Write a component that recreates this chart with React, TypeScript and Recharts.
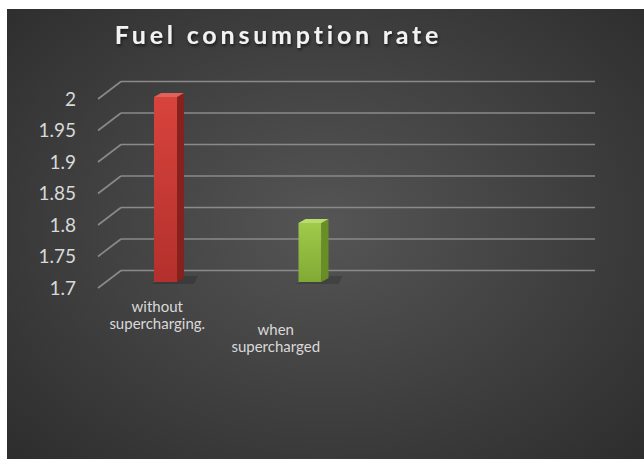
import React from 'react';
import { ComposedChart, Bar, XAxis, YAxis, CartesianGrid } from 'recharts';

const title = 'Fuel consumption rate';
const categories = ['without supercharging.', 'when supercharged', '', ''];
const consumption: (number | null)[] = [2.0, 1.8, null, null];
const yTicks = [1.7, 1.75, 1.8, 1.85, 1.9, 1.95, 2];

const data = categories.map((category, i) => ({ category, slot: i, consumption: consumption[i] }));

const W = 637;
const H = 450;
const DEPTH_DX = 23;
const DEPTH_DY = 17.5;
const FONT = 'Lato, "Open Sans", sans-serif';

const palettes = [
  { top: '#e0605a', front0: '#d8433d', front1: '#b4302c', side: '#86211e' },
  { top: '#b9dc6c', front0: '#a0ca4a', front1: '#80aa34', side: '#6a8e26' },
];

const gridLine = (p: any) => (
  <g key={p.key}>
    <line x1={p.x1} y1={p.y1} x2={p.x1 + DEPTH_DX} y2={p.y1 - DEPTH_DY} stroke="#8a8a8a" strokeWidth={1.6} />
    <line x1={p.x1 + DEPTH_DX} y1={p.y1 - DEPTH_DY} x2={p.x2 + DEPTH_DX} y2={p.y2 - DEPTH_DY} stroke="#8a8a8a" strokeWidth={1.6} />
  </g>
);

const CategoryTick = (props: any) => {
  const { x, y, payload, index } = props;
  const label: string = payload && payload.value ? String(payload.value) : '';
  if (!label.trim()) return null;
  const sp = label.indexOf(' ');
  const lines = sp > 0 ? [label.slice(0, sp), label.slice(sp + 1)] : [label];
  const stagger = index * 23;
  return (
    <text textAnchor="middle" fill="#d9d9d9" fontSize={15} fontFamily={FONT}>
      {lines.map((ln, i) => (
        <tspan key={i} x={x} y={y - 14 + stagger + i * 17}>{ln}</tspan>
      ))}
    </text>
  );
};

const Bar3D = (props: any) => {
  const { x, y, width, height, index, value } = props;
  if (value == null || height == null || isNaN(height)) return null;
  const pal = palettes[index % palettes.length];
  const top = y - 2;
  const bottom = y + height - 6;
  const sx = 7;
  const sy = 4;
  const gid = `barfront-${index}`;
  return (
    <g>
      <defs>
        <linearGradient id={gid} x1="0" y1="0" x2="0" y2="1">
          <stop offset="0%" stopColor={pal.front0} />
          <stop offset="100%" stopColor={pal.front1} />
        </linearGradient>
      </defs>
      <polygon
        points={`${x - 4},${bottom + 2} ${x + width + sx + 10},${bottom + 2} ${x + width + sx + 14},${bottom - sy - 2} ${x + width},${bottom - sy - 2}`}
        fill="#000"
        opacity={0.16}
      />
      <rect x={x} y={top} width={width} height={bottom - top} fill={`url(#${gid})`} />
      <polygon
        points={`${x + width},${top} ${x + width + sx},${top - sy} ${x + width + sx},${bottom - sy} ${x + width},${bottom}`}
        fill={pal.side}
      />
      <polygon
        points={`${x},${top} ${x + sx},${top - sy} ${x + width + sx},${top - sy} ${x + width},${top}`}
        fill={pal.top}
      />
    </g>
  );
};

export default function App() {
  return (
    <div
      style={{
        position: 'absolute',
        left: 7,
        top: 9,
        width: W,
        height: H,
        background: 'radial-gradient(ellipse 75% 80% at 50% 48%, #555555 0%, #444444 40%, #2a2a2a 100%)',
      }}
    >
      <ComposedChart
        width={W}
        height={H}
        data={data}
        margin={{ top: 90, right: 72, bottom: 141, left: 0 }}
      >
        <CartesianGrid xAxisId="labels" vertical={false} horizontal={gridLine} />
        <XAxis
          xAxisId="labels"
          dataKey="category"
          type="category"
          axisLine={false}
          tickLine={false}
          interval={0}
          tick={<CategoryTick />}
        />
        <XAxis
          xAxisId="bars"
          dataKey="slot"
          type="category"
          hide
          padding={{ left: -5, right: -99 }}
        />
        <YAxis
          type="number"
          domain={[1.7, 2]}
          ticks={yTicks}
          width={91}
          axisLine={false}
          tickLine={false}
          tickMargin={16}
          interval={0}
          tick={{ fill: '#d9d9d9', fontSize: 19, fontFamily: FONT }}
        />
        <Bar
          xAxisId="bars"
          dataKey="consumption"
          barSize={23}
          shape={<Bar3D />}
          isAnimationActive={false}
        />
      </ComposedChart>
      <svg
        width={W}
        height={H}
        style={{ position: 'absolute', left: 0, top: 0, pointerEvents: 'none' }}
      >
        <defs>
          <filter id="tshadow" x="-10%" y="-30%" width="120%" height="160%">
            <feDropShadow dx="1" dy="2" stdDeviation="1.5" floodColor="#000" floodOpacity="0.6" />
          </filter>
        </defs>
        <text
          x={271.5}
          y={35}
          textAnchor="middle"
          fill="#f2f2f2"
          fontSize={25}
          fontWeight="bold"
          letterSpacing={3.8}
          fontFamily={FONT}
          filter="url(#tshadow)"
        >
          {title}
        </text>
      </svg>
    </div>
  );
}
